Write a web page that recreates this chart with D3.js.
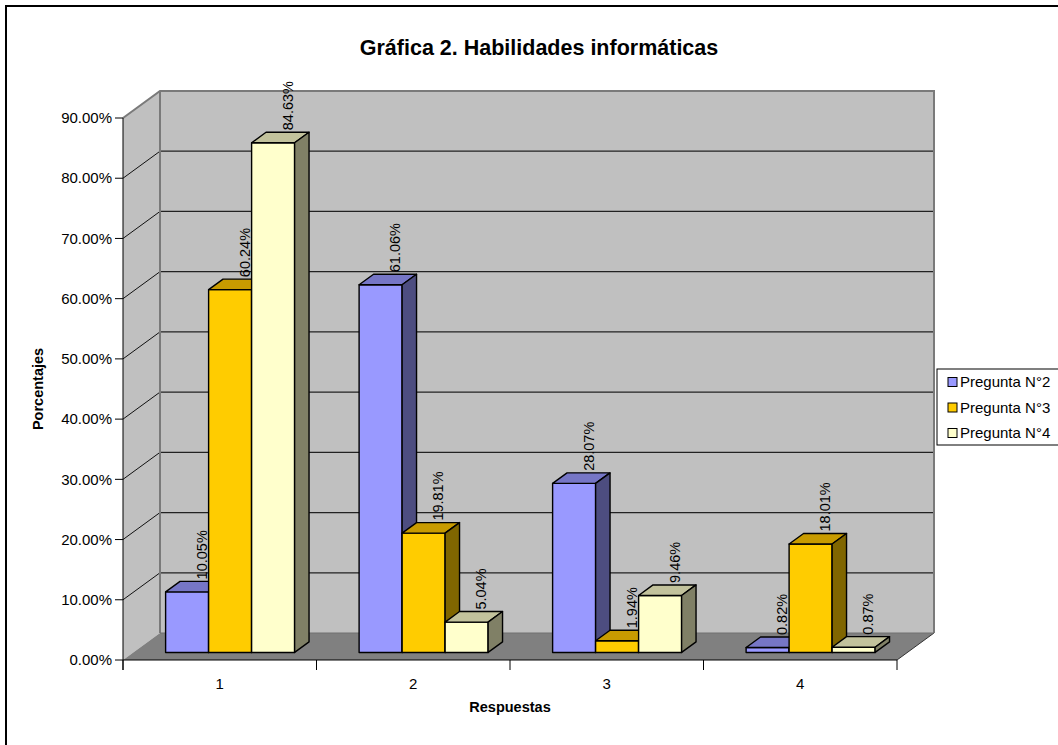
<!DOCTYPE html>
<html><head><meta charset="utf-8">
<script src="https://cdn.jsdelivr.net/npm/d3@7"></script>
<style>body{margin:0;background:#fff}svg{display:block;font-family:"Liberation Sans",Arial,sans-serif}</style>
</head><body>
<svg id="c" width="1058" height="745"></svg>
<script>
const categories = ["1","2","3","4"];
const seriesNames = ["Pregunta N°2","Pregunta N°3","Pregunta N°4"];
const pregunta2 = [10.05, 61.06, 28.07, 0.82];
const pregunta3 = [60.24, 19.81, 1.94, 18.01];
const pregunta4 = [84.63, 5.04, 9.46, 0.87];
const yTicks = [0,10,20,30,40,50,60,70,80,90];
const titleText = "Gráfica 2. Habilidades informáticas";
const yTitle = "Porcentajes";
const xTitle = "Respuestas";

const seriesValues = [pregunta2, pregunta3, pregunta4];
const colors = [
  {front:"#9999FF", top:"#7676C6", side:"#4D4D80"},
  {front:"#FFCC00", top:"#C89B00", side:"#806600"},
  {front:"#FFFFCC", top:"#C2C29C", side:"#808066"}
];

const svg = d3.select("#c");
// outer frame
svg.append("rect").attr("x",6).attr("y",6).attr("width",1200).attr("height",900)
  .attr("fill","none").attr("stroke","#000").attr("stroke-width",2);

const x0 = 123, x1 = 897, yBase = 660, yTop = 118;
const DX = 37, DY = -27;
const y = d3.scaleLinear().domain([0,90]).range([yBase, yTop]);
const x = d3.scaleBand().domain(categories).range([x0, x1]).padding(0);
const bw = x.bandwidth()/4.5;
const xs = d3.scaleBand().domain(d3.range(seriesNames.length)).range([0, bw*3]).padding(0);

const g = svg.append("g");
// left wall
g.append("polygon").attr("points",[[x0,yTop],[x0+DX,yTop+DY],[x0+DX,yBase+DY],[x0,yBase]].join(" "))
  .attr("fill","#C0C0C0");
// back wall
g.append("rect").attr("x",x0+DX).attr("y",yTop+DY).attr("width",(x1+DX)-(x0+DX)).attr("height",yBase-yTop)
  .attr("fill","#C0C0C0");
// floor
g.append("polygon").attr("points",[[x0,yBase],[x0+DX,yBase+DY],[x1+DX,yBase+DY],[x1,yBase]].join(" "))
  .attr("fill","#808080");
g.append("line").attr("x1",x1).attr("y1",yBase).attr("x2",x1+DX).attr("y2",yBase+DY).attr("stroke","#333").attr("stroke-width",1);
// gridlines
yTicks.filter(t=>t>0 && t<90).forEach(t=>{
  g.append("line").attr("x1",x0+DX).attr("x2",x1+DX).attr("y1",y(t)+DY).attr("y2",y(t)+DY)
    .attr("stroke","#222").attr("stroke-width",1.2);
});
yTicks.filter(t=>t>0 && t<90).forEach(t=>{
  g.append("line").attr("x1",x0).attr("y1",y(t)).attr("x2",x0+DX).attr("y2",y(t)+DY)
    .attr("stroke","#111").attr("stroke-width",1);
});
// wall edges
g.append("path").attr("d",`M${x0},${yTop}L${x0+DX},${yTop+DY}L${x1+DX},${yTop+DY}L${x1+DX},${yBase+DY}`)
  .attr("fill","none").attr("stroke","#7A7A7A").attr("stroke-width",2);
g.append("line").attr("x1",x0+DX).attr("x2",x0+DX).attr("y1",yTop+DY).attr("y2",yBase+DY)
  .attr("stroke","#7A7A7A").attr("stroke-width",2);
g.append("line").attr("x1",x0+DX).attr("x2",x1+DX).attr("y1",yBase+DY).attr("y2",yBase+DY)
  .attr("stroke","#707070").attr("stroke-width",1);

// bars
const fF = 0.28, fB = 0.67;
const fdx = DX*fF, fdy = DY*fF, ddx = DX*(fB-fF), ddy = DY*(fB-fF);
const barsG = svg.append("g");
const labels = [];
categories.forEach((c,ci)=>{
  seriesValues.forEach((vals,si)=>{
    const v = vals[ci];
    const bx = x(c) + x.bandwidth()/2 - 1.5*bw + xs(si) + fdx;
    const by = y(v) + fdy, bb = yBase + fdy, w = xs.bandwidth();
    const col = colors[si];
    const st = {stroke:"#000","stroke-width":1.4,"stroke-linejoin":"round"};
    const add = (pts, fill)=>{ const p = barsG.append("polygon").attr("points",pts.map(p=>p.join(",")).join(" ")).attr("fill",fill); Object.entries(st).forEach(([k,vv])=>p.attr(k,vv)); };
    add([[bx,by],[bx+w,by],[bx+w,bb],[bx,bb]], col.front);
    add([[bx,by],[bx+ddx,by+ddy],[bx+w+ddx,by+ddy],[bx+w,by]], col.top);
    add([[bx+w,by],[bx+w+ddx,by+ddy],[bx+w+ddx,bb+ddy],[bx+w,bb]], col.side);
    labels.push({x: bx + w/2 + ddx, y: by + ddy - 2, t: v.toFixed(2)+"%"});
  });
});
svg.append("g").selectAll("text").data(labels).join("text")
  .attr("transform",d=>`translate(${d.x},${d.y}) rotate(-90)`)
  .attr("dy","0.35em").attr("font-size",14.5).attr("fill","#000").text(d=>d.t);

// axes
const ax = svg.append("g").attr("stroke","#000").attr("stroke-width",1);
ax.append("line").attr("x1",x0).attr("x2",x0).attr("y1",yTop).attr("y2",yBase+10);
ax.append("line").attr("x1",x0).attr("x2",x1).attr("y1",yBase).attr("y2",yBase);
yTicks.forEach(t=>{
  ax.append("line").attr("x1",x0-8).attr("x2",x0).attr("y1",y(t)).attr("y2",y(t));
});
categories.concat(["end"]).forEach((c,i)=>{
  const xx = i<categories.length ? x(c) : x1;
  ax.append("line").attr("x1",xx).attr("x2",xx).attr("y1",yBase).attr("y2",yBase+10);
});
svg.append("g").selectAll("text").data(yTicks).join("text")
  .attr("x",x0-11).attr("y",d=>y(d)).attr("dy","0.35em").attr("text-anchor","end")
  .attr("font-size",15).text(d=>d.toFixed(2)+"%");
svg.append("g").selectAll("text").data(categories).join("text")
  .attr("x",d=>x(d)+x.bandwidth()/2).attr("y",689).attr("text-anchor","middle")
  .attr("font-size",15).text(d=>d);

// titles
svg.append("text").attr("x",539).attr("y",55).attr("text-anchor","middle")
  .attr("font-size",21.5).attr("font-weight","bold").text(titleText);
svg.append("text").attr("x",510).attr("y",712).attr("text-anchor","middle")
  .attr("font-size",14.5).attr("font-weight","bold").text(xTitle);
svg.append("text").attr("transform","translate(38,389) rotate(-90)").attr("dy","0.35em")
  .attr("text-anchor","middle").attr("font-size",14.5).attr("font-weight","bold").text(yTitle);

// legend
const lg = svg.append("g");
lg.append("rect").attr("x",937).attr("y",369).attr("width",200).attr("height",76)
  .attr("fill","#fff").attr("stroke","#000").attr("stroke-width",1);
seriesNames.forEach((n,i)=>{
  const cy = 382 + i*25.5;
  lg.append("rect").attr("x",948).attr("y",cy-4.5).attr("width",9).attr("height",9)
    .attr("fill",colors[i].front).attr("stroke","#000").attr("stroke-width",1);
  lg.append("text").attr("x",960).attr("y",cy).attr("dy","0.35em").attr("font-size",15).text(n);
});
</script>
</body></html>
